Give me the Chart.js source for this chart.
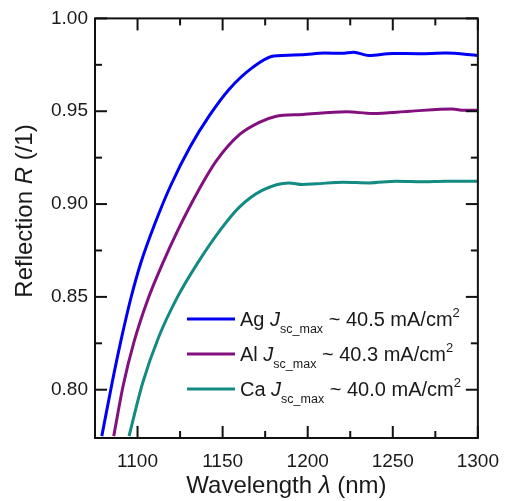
<!DOCTYPE html>
<html>
<head>
<meta charset="utf-8">
<script src="https://cdn.jsdelivr.net/npm/chart.js@4"></script>
<style>
  html, body { margin: 0; padding: 0; background: #fff; }
  canvas { display: block; }
</style>
</head>
<body>
<canvas id="reflChart" width="511" height="501"></canvas>
<script>
// values
const wavelengthAg = [1079, 1085, 1090.5, 1096, 1102, 1110, 1119.5, 1131, 1142.5, 1154, 1167.5, 1180, 1196, 1210, 1220, 1227, 1236, 1250, 1265, 1281, 1300];
const reflectionAg = [0.775, 0.8035, 0.8275, 0.849, 0.8685, 0.889, 0.910, 0.931, 0.948, 0.962, 0.9735, 0.9797, 0.9804, 0.9813, 0.9812, 0.9818, 0.980, 0.9811, 0.9810, 0.9813, 0.980];

const wavelengthAl = [1086, 1091.5, 1098, 1106, 1114.5, 1124, 1135, 1146.5, 1160, 1171.5, 1181, 1197, 1223, 1238, 1260, 1285, 1292, 1300];
const reflectionAl = [0.775, 0.802, 0.826, 0.8485, 0.8675, 0.8865, 0.906, 0.9235, 0.9375, 0.944, 0.9472, 0.9483, 0.9497, 0.9488, 0.950, 0.9512, 0.9505, 0.9505];

const wavelengthCa = [1095, 1103, 1112.5, 1123.5, 1135, 1149, 1160, 1173.5, 1189, 1197, 1205, 1221, 1236, 1252, 1268, 1281, 1300];
const reflectionCa = [0.775, 0.8036, 0.8285, 0.850, 0.8678, 0.8865, 0.8985, 0.9075, 0.9114, 0.9105, 0.9109, 0.9118, 0.9114, 0.9123, 0.912, 0.9123, 0.9123];

const xMajorTicks = [1100, 1150, 1200, 1250, 1300];
const xMinorTicks = [1125, 1175, 1225, 1275];
const yMajorTicks = [0.80, 0.85, 0.90, 0.95, 1.00];
const yMinorTicks = [0.825, 0.875, 0.925, 0.975];

const legendMetals = ['Ag', 'Al', 'Ca'];
const legendJsc = ['40.5', '40.3', '40.0'];
const seriesColors = ['#0000f5', '#82107f', '#138a82'];

const FONT = "'Liberation Sans', Arial, sans-serif";

function toPoints(xs, ys) {
    return xs.map((x, i) => ({ x: x, y: ys[i] }));
}

// draws a row of text pieces with different fonts / baseline shifts
function drawRuns(ctx, runs, x, y, align) {
    let total = 0;
    runs.forEach(r => { ctx.font = r.font; total += ctx.measureText(r.text).width; });
    let cx = align === 'center' ? x - total / 2 : x;
    runs.forEach(r => {
        ctx.font = r.font;
        ctx.fillText(r.text, cx, y + (r.dy || 0));
        cx += ctx.measureText(r.text).width;
    });
}

const framePlugin = {
    id: 'framePlugin',
    afterDraw(chart) {
        const { ctx, chartArea: a, scales: { x, y } } = chart;
        ctx.save();
        ctx.strokeStyle = '#111';
        ctx.lineWidth = 2;
        ctx.lineCap = 'butt';
        const seg = (x1, y1, x2, y2) => {
            ctx.beginPath(); ctx.moveTo(x1, y1); ctx.lineTo(x2, y2); ctx.stroke();
        };
        xMajorTicks.forEach(v => {
            const px = x.getPixelForValue(v);
            seg(px, a.bottom, px, a.bottom - 12);
            seg(px, a.top, px, a.top + 12);
        });
        xMinorTicks.forEach(v => {
            const px = x.getPixelForValue(v);
            seg(px, a.bottom, px, a.bottom - 7);
            seg(px, a.top, px, a.top + 7);
        });
        yMajorTicks.forEach(v => {
            const py = y.getPixelForValue(v);
            seg(a.left, py, a.left + 12, py);
            seg(a.right, py, a.right - 12, py);
        });
        yMinorTicks.forEach(v => {
            const py = y.getPixelForValue(v);
            seg(a.left, py, a.left + 7, py);
            seg(a.right, py, a.right - 7, py);
        });
        ctx.strokeRect(a.left, a.top, a.right - a.left, a.bottom - a.top);

        // axis titles
        ctx.fillStyle = '#1a1a1a';
        ctx.textBaseline = 'alphabetic';
        ctx.textAlign = 'left';
        drawRuns(ctx, [
            { text: 'Wavelength ', font: '24px ' + FONT },
            { text: 'λ', font: 'italic 24px ' + FONT },
            { text: ' (nm)', font: '24px ' + FONT }
        ], (a.left + a.right) / 2, 493, 'center');

        ctx.save();
        ctx.translate(32, 211);
        ctx.rotate(-Math.PI / 2);
        drawRuns(ctx, [
            { text: 'Reflection ', font: '24px ' + FONT },
            { text: 'R', font: 'italic 24px ' + FONT },
            { text: ' (/1)', font: '24px ' + FONT }
        ], 0, 0, 'center');
        ctx.restore();

        // legend
        legendMetals.forEach((m, i) => {
            const ly = 319 + i * 35;
            ctx.strokeStyle = seriesColors[i];
            ctx.lineWidth = 3;
            seg(187, ly, 235, ly);
            ctx.fillStyle = '#1a1a1a';
            drawRuns(ctx, [
                { text: m + ' ', font: '20px ' + FONT },
                { text: 'J', font: 'italic 20px ' + FONT },
                { text: 'sc_max', font: '12.5px ' + FONT, dy: 7 },
                { text: ' ~ ' + legendJsc[i] + ' mA/cm', font: '20px ' + FONT },
                { text: '2', font: '13px ' + FONT, dy: -9 }
            ], 240, ly + 7, 'left');
        });
        ctx.restore();
    }
};

const whiteBg = {
    id: 'whiteBg',
    beforeDraw(chart) {
        const ctx = chart.ctx;
        ctx.save();
        ctx.fillStyle = '#fff';
        ctx.fillRect(0, 0, chart.width, chart.height);
        ctx.restore();
    }
};

const series = [
    { label: 'Ag', pts: toPoints(wavelengthAg, reflectionAg) },
    { label: 'Al', pts: toPoints(wavelengthAl, reflectionAl) },
    { label: 'Ca', pts: toPoints(wavelengthCa, reflectionCa) }
];

new Chart(document.getElementById('reflChart'), {
    type: 'line',
    data: {
        datasets: series.map((s, i) => ({
            label: s.label,
            data: s.pts,
            borderColor: seriesColors[i],
            borderWidth: 3,
            pointRadius: 0,
            cubicInterpolationMode: 'monotone',
            fill: false
        }))
    },
    options: {
        responsive: false,
        animation: false,
        devicePixelRatio: 1,
        layout: { padding: { top: 16, right: 27, left: 0, bottom: 0 } },
        plugins: { legend: { display: false }, tooltip: { enabled: false } },
        scales: {
            x: {
                type: 'linear',
                min: 1075,
                max: 1300,
                border: { display: false },
                grid: { display: false, drawTicks: false },
                afterBuildTicks: scale => { scale.ticks = xMajorTicks.map(v => ({ value: v })); },
                afterFit: scale => { scale.height = 63; },
                ticks: {
                    padding: 12,
                    color: '#1a1a1a',
                    font: { family: FONT, size: 19 },
                    callback: v => String(v)
                }
            },
            y: {
                min: 0.774,
                max: 1.0,
                border: { display: false },
                grid: { display: false, drawTicks: false },
                afterBuildTicks: scale => { scale.ticks = yMajorTicks.map(v => ({ value: v })); },
                afterFit: scale => { scale.width = 95; },
                ticks: {
                    padding: 7,
                    color: '#1a1a1a',
                    font: { family: FONT, size: 19 },
                    callback: v => v.toFixed(2)
                }
            }
        }
    },
    plugins: [whiteBg, framePlugin]
});
</script>
</body>
</html>
